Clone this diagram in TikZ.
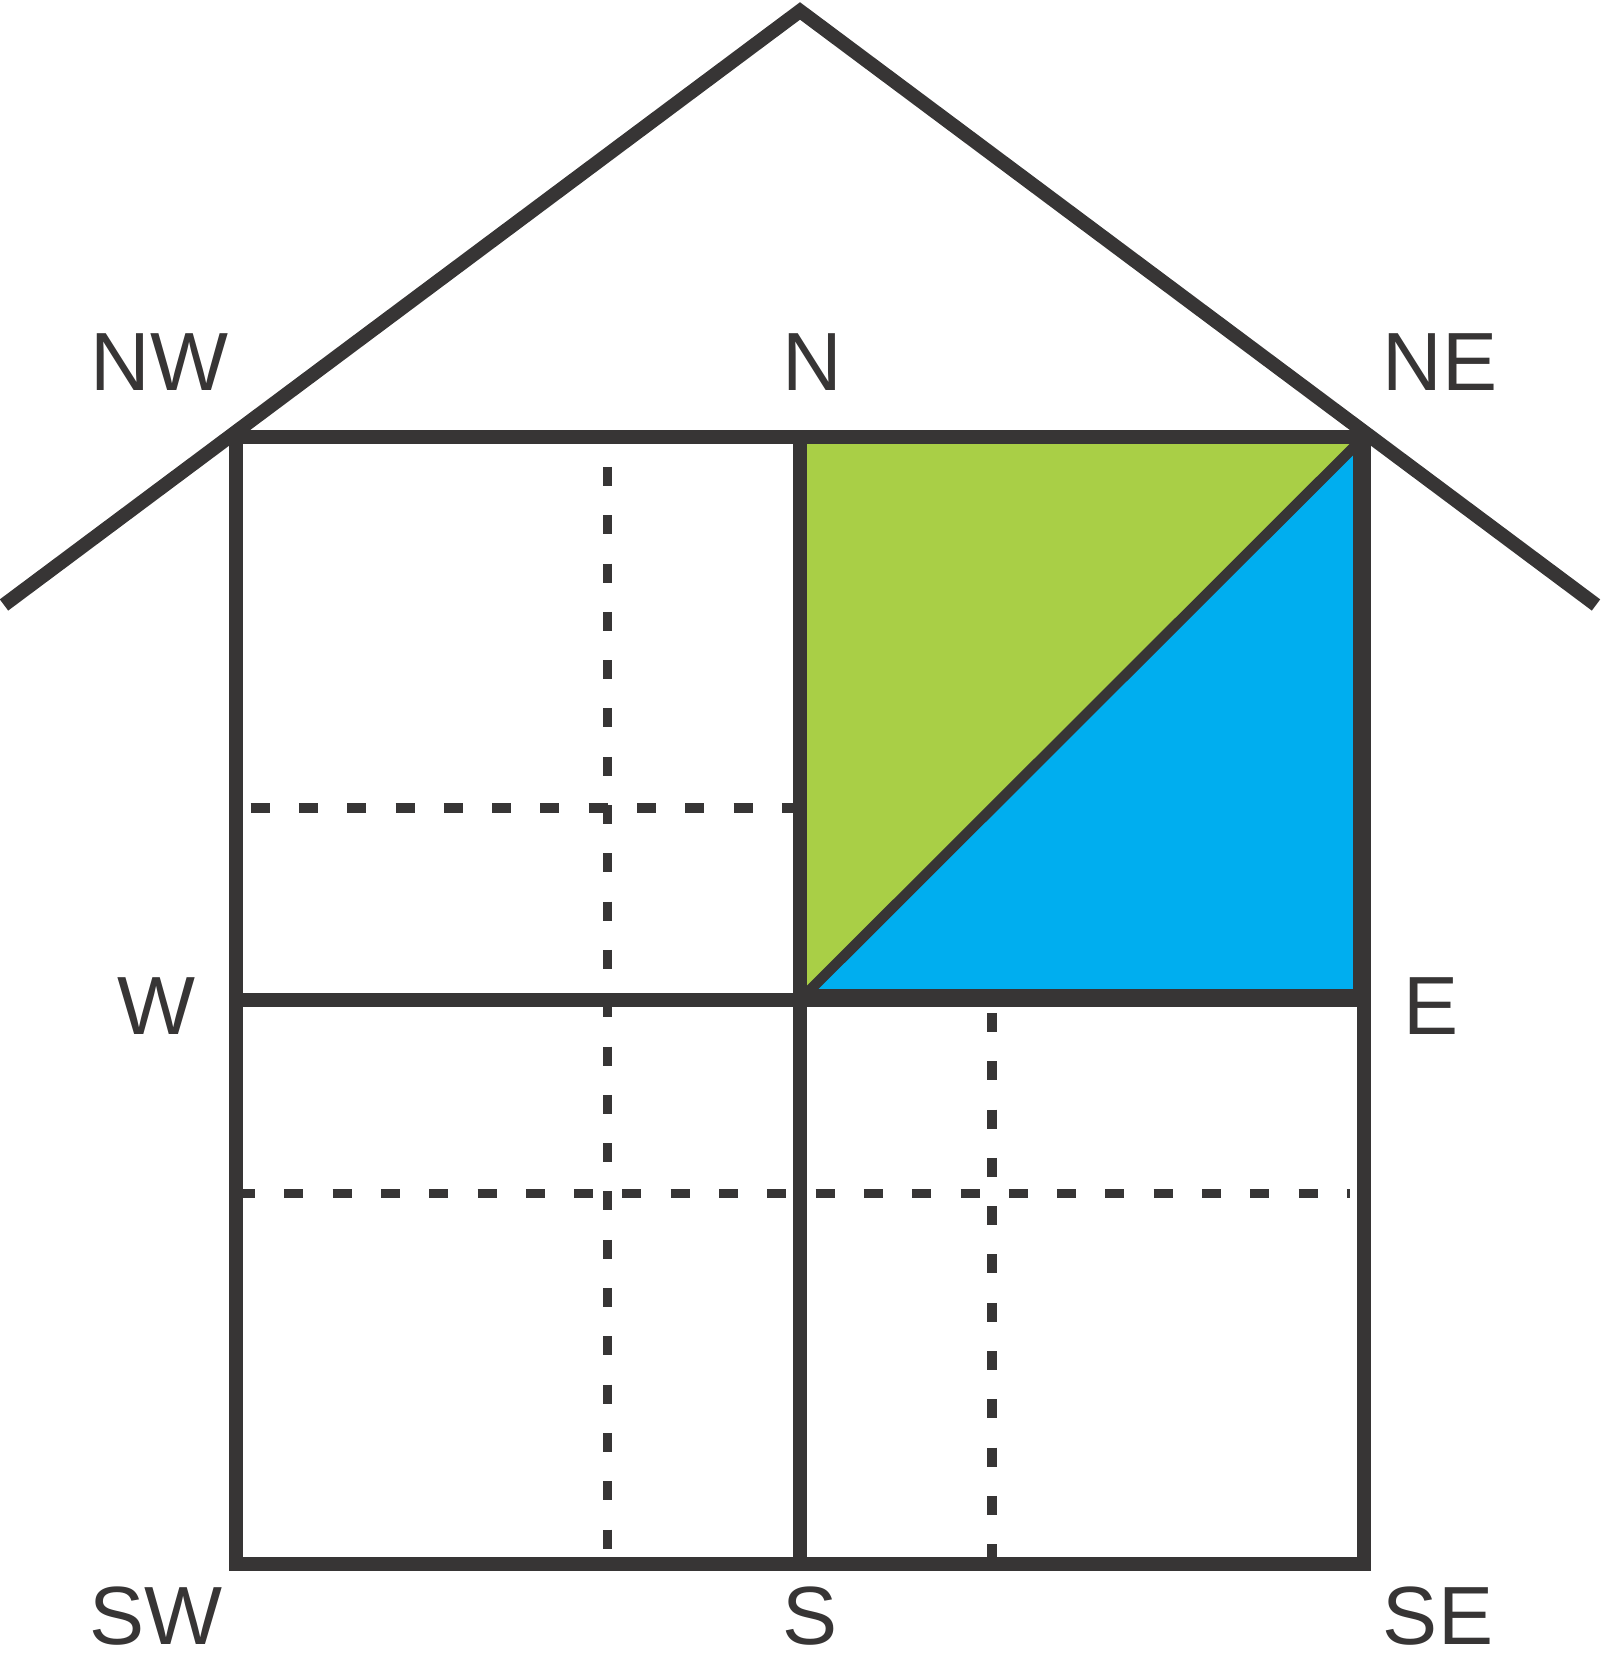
\documentclass[tikz,border=0pt]{standalone}
\usepackage{fontspec}
\setmainfont{Liberation Sans}
\usepackage{tikz}
\usetikzlibrary{calc}
\definecolor{wallgray}{RGB}{55,53,53}
\definecolor{leafgreen}{RGB}{169,207,70}
\definecolor{skyblue}{RGB}{0,174,239}

\begin{document}
\begin{tikzpicture}[wall/.style={draw=wallgray, line width=1.45mm},
  roofline/.style={draw=wallgray, line width=1.4mm},
  diagline/.style={draw=wallgray, line width=1.05mm},
  dashline/.style={draw=wallgray, line width=0.95mm, dash pattern=on 1.9mm off 2.93mm},
  compass/.style={text=wallgray, inner sep=0pt, font=\fontsize{23.5}{28}\selectfont}]
\useasboundingbox (0,0) rectangle (16,16.58);
\coordinate (tl) at (2.36,12.21);
\coordinate (tm) at (8,12.21);
\coordinate (tr) at (13.64,12.21);
\coordinate (ml) at (2.36,6.58);
\coordinate (mm) at (8,6.58);
\coordinate (mr) at (13.64,6.58);
\coordinate (bl) at (2.36,0.94);
\coordinate (bm) at (8,0.94);
\coordinate (br) at (13.64,0.94);
\coordinate (peak) at (8,16.47);
\coordinate (eaveW) at (0.04,10.53);
\coordinate (eaveE) at (15.96,10.53);

\fill[leafgreen] (tm) -- (tr) -- (mm) -- cycle;
\fill[skyblue] (mm) -- (tr) -- (mr) -- cycle;

\draw[dashline] (6.075,11.91) -- (6.075,1.07);
\draw[dashline] (2.506,8.50) -- (8,8.50);
\draw[dashline] (2.36,4.645) -- (13.50,4.645);
\draw[dashline] (9.92,6.45) -- (9.92,0.94);

\draw[wall] (tl) rectangle (br);
\draw[wall] (tm) -- (bm);
\draw[wall] (ml) -- (mr);
\draw[wallgray, line width=0.4mm] ($(tr)+(-0.09,-0.05)$) -- ($(mr)+(-0.09,0.09)$) -- ($(mm)+(0.1,0.09)$);
\draw[diagline] (mm) -- (tr);
\draw[roofline] (eaveW) -- (peak) -- (eaveE);

\node[compass] (nw) at (1.595,12.96) {NW};
\node[compass] (n) at (8.12,12.96) {N};
\node[compass] (ne) at (14.40,12.96) {NE};
\node[compass] (w) at (1.56,6.52) {W};
\node[compass] (e) at (14.31,6.52) {E};
\node[compass] (sw) at (1.56,0.42) {SW};
\node[compass] (s) at (8.10,0.42) {S};
\node[compass] (se) at (14.38,0.42) {SE};
\end{tikzpicture}
\end{document}
